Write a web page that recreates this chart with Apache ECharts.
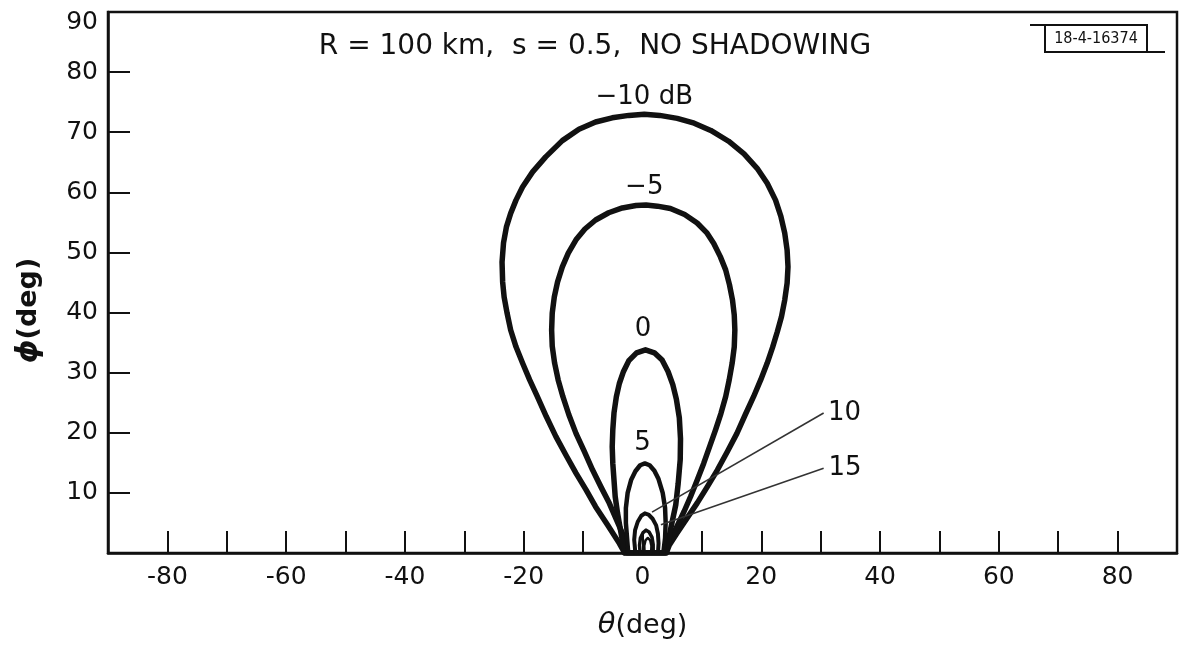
<!DOCTYPE html>
<html>
<head>
<meta charset="utf-8">
<script src="https://cdn.jsdelivr.net/npm/echarts@6/dist/echarts.min.js"></script>
<style>html,body{margin:0;padding:0;background:#fff}#c{width:1180px;height:645px}</style>
</head>
<body>
<div id="c"></div>
<script>
// ---- data (theta deg, phi deg) ----
const contourM10 = [[-3.0,0],[-3.9,1.6],[-5.9,4.7],[-7.9,7.7],[-9.5,10.5],[-11.2,13.3],[-12.9,16.3],[-14.6,19.4],[-16.2,22.7],[-17.7,26.0],[-19.0,28.8],[-20.2,31.6],[-21.3,34.3],[-22.2,37.1],[-22.8,39.9],[-23.3,42.6],[-23.55,45.1],[-23.65,48.4],[-23.4,51.6],[-22.9,54.3],[-22.2,56.5],[-21.3,58.7],[-20.2,60.9],[-18.5,63.4],[-16.3,65.9],[-13.5,68.6],[-10.7,70.5],[-7.9,71.7],[-5.1,72.4],[-2.3,72.8],[0.3,73.0],[2.9,72.8],[5.85,72.3],[8.7,71.5],[11.5,70.3],[14.5,68.5],[17.1,66.4],[19.3,64.0],[21.0,61.5],[22.4,58.7],[23.3,56.0],[23.95,53.2],[24.35,50.4],[24.5,47.6],[24.35,44.9],[23.95,42.1],[23.4,39.3],[22.7,36.8],[21.9,34.2],[21.0,31.6],[19.9,28.8],[18.7,26.0],[17.3,23.0],[15.9,19.9],[14.3,16.9],[12.6,13.8],[10.9,11.0],[9.2,8.3],[7.5,5.8],[5.8,3.3],[4.5,1.3],[4.0,0],[-3.0,0]];
const contourM5 = [[-2.6,0],[-3.4,3.3],[-4.5,5.8],[-5.6,8.3],[-7.0,11.0],[-8.4,13.8],[-9.8,16.9],[-11.2,19.9],[-12.4,23.0],[-13.4,26.0],[-14.2,28.8],[-14.8,31.6],[-15.2,34.4],[-15.3,37.1],[-15.2,39.9],[-14.85,42.6],[-14.3,45.1],[-13.5,47.6],[-12.5,49.9],[-11.2,52.1],[-9.7,53.9],[-7.9,55.4],[-5.7,56.6],[-3.4,57.4],[-1.1,57.8],[0.6,57.9],[2.5,57.7],[4.7,57.3],[7.1,56.3],[9.2,54.9],[10.8,53.3],[12.0,51.5],[13.1,49.3],[14.0,47.1],[14.65,44.6],[15.15,42.1],[15.45,39.6],[15.55,37.1],[15.45,34.3],[15.1,31.6],[14.6,28.8],[14.0,26.0],[13.2,23.2],[12.3,20.5],[11.3,17.7],[10.3,14.9],[9.2,12.1],[8.1,9.4],[7.0,6.9],[5.8,4.4],[4.7,2.2],[3.8,0],[-2.6,0]];
const contour0 = [[-3.0,0],[-3.7,3.8],[-4.2,6.6],[-4.6,9.4],[-5.0,14.9],[-5.1,17.7],[-5.0,20.5],[-4.8,23.3],[-4.4,26.0],[-3.9,28.2],[-3.2,30.2],[-2.3,32.0],[-1.0,33.3],[0.5,33.8],[2.0,33.3],[3.3,32.1],[4.3,30.2],[5.1,28.0],[5.7,25.6],[6.2,22.5],[6.4,19.0],[6.35,15.5],[6.0,11.5],[5.6,8.0],[4.7,3.8],[4.0,0],[-3.0,0]];
const contour5 = [[-2.4,0],[-2.6,2.5],[-2.8,5.0],[-2.8,7.5],[-2.5,10.0],[-1.9,12.2],[-1.2,13.6],[-0.4,14.6],[0.4,14.9],[1.2,14.6],[2.0,13.7],[2.7,12.3],[3.4,10.0],[3.8,7.5],[3.9,5.0],[3.8,2.5],[3.5,0],[-2.4,0]];
const contour10 = [[-1.2,0],[-1.4,2.2],[-1.25,3.8],[-0.8,5.2],[-0.2,6.2],[0.4,6.6],[1.0,6.4],[1.7,5.7],[2.3,4.6],[2.6,3.2],[2.7,1.6],[2.6,0],[-1.2,0]];
const contour15 = [[-0.4,0],[-0.5,1.3],[-0.35,2.5],[0.1,3.4],[0.6,3.8],[1.1,3.5],[1.6,2.6],[1.8,1.4],[1.8,0],[-0.4,0]];
const contour20 = [[0.35,0],[0.3,1.2],[0.5,2.1],[0.9,2.5],[1.3,2.1],[1.5,1.2],[1.45,0],[0.35,0]];

const contourLabels = ['\u221210 dB', '\u22125', '0', '5', '10', '15'];
const labelTheta = [0.3, 0.3, 0.1, 0.0, 34.0, 34.1];
const labelPhi = [75.9, 60.9, 37.3, 18.3, 23.3, 14.1];

const leader10 = [[30.5, 23.3], [1.6, 6.8]];
const leader15 = [[30.5, 14.1], [3.1, 4.7]];

const xTicks = [-80, -60, -40, -20, 0, 20, 40, 60, 80];
const yTicks = [10, 20, 30, 40, 50, 60, 70, 80, 90];

const titleText = 'R = 100 km,  s = 0.5,  NO SHADOWING';
const figureId = '18-4-16374';

// ---- chart ----
const FONT = 'DejaVu Sans';
const INK = '#111111';
const chart = echarts.init(document.getElementById('c'), null, {renderer: 'canvas'});

function contourSeries(name, data, w) {
  return {
    name: name, type: 'line', data: data, smooth: false, showSymbol: false, silent: true,
    lineStyle: {color: INK, width: w, cap: 'round', join: 'round'}, z: 3, animation: false
  };
}
function leaderSeries(data) {
  return {
    type: 'line', data: data, showSymbol: false, silent: true,
    lineStyle: {color: '#333', width: 1.6}, z: 4, animation: false
  };
}

const labelData = contourLabels.map((t, i) => ({name: t, value: [labelTheta[i], labelPhi[i]]}));

chart.setOption({
  backgroundColor: '#fff',
  animation: false,
  grid: {left: 108, right: 1, top: 12, bottom: 92, show: true, borderColor: INK, borderWidth: 2.5, backgroundColor: 'transparent'},
  xAxis: {
    type: 'value', min: -90, max: 90, interval: 10,
    name: '{s|\u03b8}(deg)', nameLocation: 'middle', nameGap: 58,
    nameTextStyle: {fontFamily: FONT, fontSize: 27, color: INK, rich: {s: {fontFamily: FONT, fontSize: 29, fontStyle: 'italic', color: INK}}},
    axisLine: {onZero: false, lineStyle: {color: INK, width: 2.5}},
    axisTick: {inside: true, length: 22, lineStyle: {color: INK, width: 2}},
    axisLabel: {
      fontFamily: FONT, fontSize: 25, color: INK, margin: 12,
      formatter: v => xTicks.indexOf(v) >= 0 ? String(v) : ''
    },
    splitLine: {show: false}
  },
  yAxis: {
    type: 'value', min: 0, max: 90, interval: 10,
    name: '{s|\u03d5}(deg)', nameLocation: 'middle', nameGap: 64, nameRotate: 90,
    nameTextStyle: {fontFamily: FONT, fontSize: 27, fontWeight: 'bold', color: INK, padding: [0, 56, 0, 0],
      rich: {s: {fontFamily: FONT, fontSize: 30, fontStyle: 'italic', fontWeight: 'bold', color: INK}}},
    axisLine: {onZero: false, lineStyle: {color: INK, width: 2.5}},
    axisTick: {inside: true, length: 22, lineStyle: {color: INK, width: 2}},
    axisLabel: {
      fontFamily: FONT, fontSize: 25, color: INK, margin: 10,
      formatter: v => yTicks.indexOf(v) < 0 ? '' : (v === 90 ? '{t|90}' : String(v)),
      rich: {t: {fontFamily: FONT, fontSize: 25, color: INK, padding: [20, 0, 0, 0]}}
    },
    splitLine: {show: false}
  },
  graphic: [
    {type: 'text', x: 595, y: 47, style: {text: titleText, font: '28px "DejaVu Sans"', fill: INK, align: 'center', verticalAlign: 'middle'}, silent: true},
    {type: 'rect', shape: {x: 1045, y: 25, width: 102, height: 27}, style: {fill: 'none', stroke: INK, lineWidth: 2}, silent: true},
    {type: 'line', shape: {x1: 1030, y1: 25, x2: 1147, y2: 25}, style: {stroke: INK, lineWidth: 2}, silent: true},
    {type: 'line', shape: {x1: 1045, y1: 52, x2: 1165, y2: 52}, style: {stroke: INK, lineWidth: 2}, silent: true},
    {type: 'text', x: 1096, y: 39, style: {text: figureId, font: '16px "DejaVu Sans Condensed"', fill: INK, align: 'center', verticalAlign: 'middle'}, silent: true}
  ],
  series: [
    contourSeries('-10 dB', contourM10, 5.5),
    contourSeries('-5 dB', contourM5, 5.5),
    contourSeries('0 dB', contour0, 5.5),
    contourSeries('5 dB', contour5, 4.5),
    contourSeries('10 dB', contour10, 4),
    contourSeries('15 dB', contour15, 3.5),
    contourSeries('20 dB', contour20, 2.5),
    leaderSeries(leader10),
    leaderSeries(leader15),
    {
      type: 'scatter', data: labelData, symbolSize: 0, itemStyle: {color: INK, opacity: 1}, silent: true, z: 5,
      label: {show: true, position: 'inside', formatter: p => p.name, fontFamily: FONT, fontSize: 26, color: INK, opacity: 1}
    }
  ]
});
</script>
</body>
</html>
